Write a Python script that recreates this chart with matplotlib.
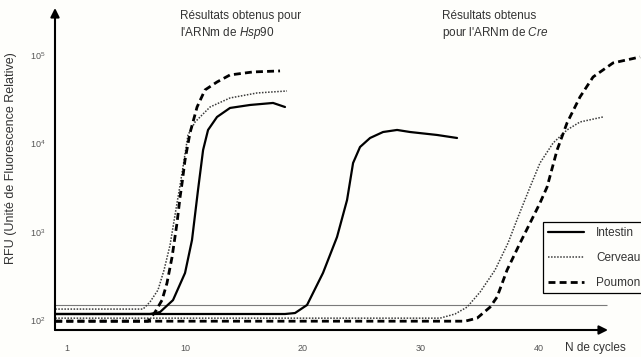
import matplotlib
matplotlib.use("Agg")
import matplotlib.pyplot as plt
from matplotlib.lines import Line2D

plt.rcParams['font.family'] = ['Liberation Sans', 'DejaVu Sans']
plt.rcParams['mathtext.fontset'] = 'custom'
plt.rcParams['mathtext.rm'] = 'Liberation Sans'
plt.rcParams['mathtext.it'] = 'Liberation Sans:italic'

# ---- data (cycles, RFU) ----
hsp_intestin_c = [-1, 7.03, 7.88, 8.98, 10.0, 10.59, 11.10, 11.53, 11.95, 12.71, 13.81, 15.51, 17.46, 18.47]
hsp_intestin_v = [117, 117, 123, 168, 341, 805, 2967, 8414, 14190, 19910, 25180, 27220, 28690, 25820]

hsp_cerveau_c = [-1, 6.44, 7.03, 7.71, 8.22, 8.73, 9.15, 9.58, 9.92, 10.25, 10.85, 12.12, 13.81, 16.10, 18.64]
hsp_cerveau_v = [133, 133, 160, 219, 368, 706, 1545, 3380, 6486, 12450, 17470, 25820, 32660, 37220, 39200]

hsp_poumon_c = [-1, 6.86, 7.46, 8.05, 8.47, 8.90, 9.32, 9.58, 9.75, 10.0, 10.42, 11.02, 11.69, 12.71, 13.81, 15.76, 18.05]
hsp_poumon_v = [97, 97, 123, 168, 262, 517, 1256, 2473, 3560, 6486, 13120, 25820, 40270, 49540, 59540, 64400, 66100]

cre_intestin_c = [-1, 18.47, 19.32, 20.34, 21.69, 22.88, 23.73, 24.24, 24.83, 25.68, 26.78, 27.97, 29.07, 31.36, 33.05]
cre_intestin_v = [117, 117, 120, 148, 341, 871, 2285, 5996, 9100, 11510, 13450, 14190, 13450, 12450, 11510]

cre_cerveau_c = [-1, 31.61, 32.88, 33.90, 35.0, 36.27, 37.37, 38.22, 39.24, 40.08, 41.19, 42.37, 43.47, 45.42]
cre_cerveau_v = [105, 105, 117, 140, 207, 368, 744, 1466, 3207, 5996, 10100, 14190, 17470, 19910]

cre_poumon_c = [-1, 33.73, 34.75, 35.85, 36.44, 37.29, 38.39, 39.24, 40.08, 40.68, 41.53, 42.37, 43.47, 44.58, 46.27, 48.56]
cre_poumon_v = [97, 97, 105, 140, 182, 368, 744, 1256, 2113, 3207, 8414, 17020, 33530, 56490, 81450, 95100]

threshold = 148
threshold_end = 45.76

xtick_pos = [0, 10, 20, 30, 40]
xtick_labels = ['1', '10', '20', '30', '40']
ytick_pos = [1e2, 1e3, 1e4, 1e5]
ytick_labels = [r'$10^{2}$', r'$10^{3}$', r'$10^{4}$', r'$10^{5}$']
legend_labels = ['Intestin', 'Cerveau', 'Poumon']

# ---- figure ----
bg = '#fefefb'
fig = plt.figure(figsize=(6.41, 3.57), dpi=100, facecolor=bg)
ax = fig.add_axes([55/641, 27/357, 586/641, 322/357])
ax.set_facecolor(bg)
ax.set_yscale('log')
ax.set_xlim(-1.02, 48.64)
ax.set_ylim(77.1, 341000)
for s in ax.spines.values():
    s.set_visible(False)

solid_kw = dict(color='black', lw=1.6, solid_joinstyle='round', solid_capstyle='round')
dot_kw = dict(color='#3a3a3a', lw=1.1, linestyle=(0, (1, 1)))
dash_kw = dict(color='black', lw=2.0, linestyle=(0, (2.5, 1.5)))

ax.hlines(threshold, -1.02, threshold_end, color='#7a7a7a', lw=0.8)

ax.plot(hsp_intestin_c, hsp_intestin_v, **solid_kw)
ax.plot(hsp_cerveau_c, hsp_cerveau_v, **dot_kw)
ax.plot(hsp_poumon_c, hsp_poumon_v, **dash_kw)
ax.plot(cre_intestin_c, cre_intestin_v, **solid_kw)
ax.plot(cre_cerveau_c, cre_cerveau_v, **dot_kw)
ax.plot(cre_poumon_c, cre_poumon_v, clip_on=False, **dash_kw)

# axes arrows
ax.annotate('', xy=(0, 1), xytext=(0, 0), xycoords='axes fraction',
            arrowprops=dict(arrowstyle='-|>', lw=1.5, color='black', mutation_scale=13,
                            shrinkA=0, shrinkB=0), annotation_clip=False)
ax.annotate('', xy=((608-55)/586, 0), xytext=(0, 0), xycoords='axes fraction',
            arrowprops=dict(arrowstyle='-|>', lw=1.5, color='black', mutation_scale=13,
                            shrinkA=0, shrinkB=0), annotation_clip=False)

ax.set_xticks(xtick_pos)
ax.set_xticklabels(xtick_labels)
ax.set_yticks(ytick_pos)
ax.set_yticklabels(ytick_labels)
ax.minorticks_off()
ax.tick_params(axis='x', length=0, pad=10, labelsize=6.5, labelcolor='#555555')
ax.tick_params(axis='y', length=0, pad=7, labelsize=6.5, labelcolor='#555555')

ax.set_ylabel('RFU (Unité de Fluorescence Relative)', fontsize=9, color='#333333', labelpad=10)
ax.yaxis.set_label_coords(-38/586, (330-158)/322)

fig.text(565/641, 1-348/357, 'N de cycles', fontsize=8.5, color='#333333', va='center', ha='left')

fig.text(180/641, 1-10/357, 'Résultats obtenus pour\nl\'ARNm de $\\mathit{Hsp90}$', fontsize=8.5,
         color='#333333', va='top', ha='left', linespacing=1.25)
fig.text(442/641, 1-10/357, 'Résultats obtenus\npour l\'ARNm de $\\mathit{Cre}$', fontsize=8.5,
         color='#333333', va='top', ha='left', linespacing=1.25)

handles = [Line2D([], [], **solid_kw),
           Line2D([], [], color='#3a3a3a', lw=1.1, linestyle=(0, (1, 1))),
           Line2D([], [], **dash_kw)]
leg = fig.legend(handles, legend_labels, loc='upper left',
                 bbox_to_anchor=(543/641, 1-222/357), bbox_transform=fig.transFigure,
                 fontsize=8.5, frameon=True, fancybox=False, framealpha=1,
                 edgecolor='black', facecolor=bg, borderaxespad=0,
                 handlelength=3.1, handletextpad=1.0, borderpad=0.4, labelspacing=1.1)
leg.get_frame().set_linewidth(0.9)
for t in leg.get_texts():
    t.set_color('#333333')

fig.savefig('out.png', dpi=100, facecolor=bg)
